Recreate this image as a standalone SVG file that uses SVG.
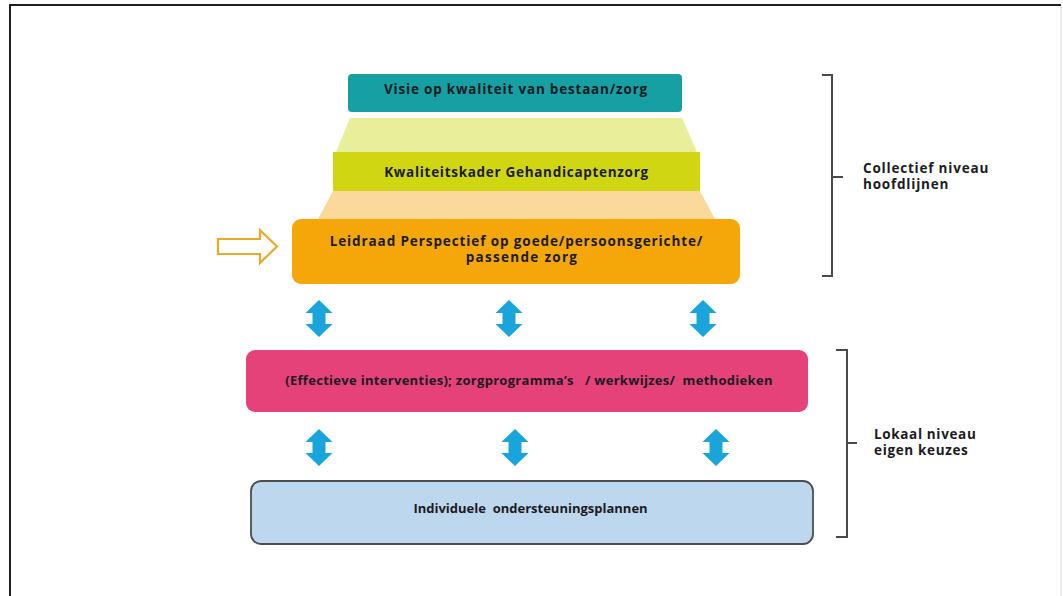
<svg xmlns="http://www.w3.org/2000/svg" width="1063" height="596" viewBox="0 0 1063 596">
<defs>
<style>
.t{font-family:"Open Sans","DejaVu Sans",sans-serif;font-weight:bold;font-size:13.5px;letter-spacing:0.8px;fill:#1b1b22;white-space:pre}
.m{text-anchor:middle}
.n{font-size:13px;letter-spacing:0.3px}
.brace{fill:none;stroke:#4a4a4a;stroke-width:2}
.dbl{fill:#1aa4dc}
</style>
<path id="dblarrow" d="M0,0 L13.5,13 L6.5,13 L6.5,24 L13.5,24 L0,37 L-13.5,24 L-6.5,24 L-6.5,13 L-13.5,13 Z"/>
</defs>
<rect x="0" y="0" width="1063" height="596" fill="#ffffff"/>
<g id="frame">
<path d="M10,596 L10,5 L1061,5" fill="none" stroke="#1e1e1e" stroke-width="2"/>
<line x1="1061" y1="6" x2="1061" y2="596" stroke="#e6e6e6" stroke-width="1.5"/>
</g>
<g id="step-bg">
<polygon points="350,118 682,118 697,152 336,152" fill="#e9ee9b"/>
<polygon points="333,191 700,191 715,219 318,219" fill="#fbd89c"/>
</g>
<g id="visie">
<rect x="348" y="74" width="334" height="38" rx="4" fill="#17a0a3"/>
<text class="t m" x="516" y="93.5">Visie op kwaliteit van bestaan/zorg</text>
</g>
<g id="kwaliteitskader">
<rect x="333" y="152" width="367" height="39" fill="#d0d712"/>
<text class="t m" x="516.5" y="177" style="letter-spacing:0.7px">Kwaliteitskader Gehandicaptenzorg</text>
</g>
<g id="leidraad">
<rect x="292" y="219" width="448" height="65" rx="9" fill="#f5a70a"/>
<text class="t m" x="516.5" y="246" style="letter-spacing:0.9px">Leidraad Perspectief op goede/persoonsgerichte/</text>
<text class="t m" x="522" y="262" style="letter-spacing:1.3px">passende zorg</text>
</g>
<g id="pointer-arrow">
<path d="M218,239 L260,239 L260,230 L277,246.5 L260,263 L260,254 L218,254 Z" fill="#ffffff" stroke="#eaa92b" stroke-width="2.2" stroke-linejoin="miter"/>
</g>
<g id="interventies">
<rect x="246" y="350" width="562" height="62" rx="9" fill="#e6427a"/>
<text class="t m n" x="529" y="385">(Effectieve interventies); zorgprogramma’s   / werkwijzes/  methodieken</text>
</g>
<g id="ondersteuningsplannen">
<rect x="251" y="481" width="562" height="63" rx="10" fill="#bdd7ee" stroke="#4d4d4d" stroke-width="1.8"/>
<text class="t m" x="530.5" y="513" style="font-size:13px;letter-spacing:0">Individuele  ondersteuningsplannen</text>
</g>
<g id="connectors">
<use href="#dblarrow" class="dbl" x="319" y="300"/>
<use href="#dblarrow" class="dbl" x="509" y="300"/>
<use href="#dblarrow" class="dbl" x="703" y="300"/>
<use href="#dblarrow" class="dbl" x="319" y="429"/>
<use href="#dblarrow" class="dbl" x="515" y="429"/>
<use href="#dblarrow" class="dbl" x="716" y="429"/>
</g>
<g id="collectief">
<path class="brace" d="M822,75 L832,75 L832,276 L822,276 M832,177 L843,177"/>
<text class="t" x="863" y="173">Collectief niveau</text>
<text class="t" x="863" y="189">hoofdlijnen</text>
</g>
<g id="lokaal">
<path class="brace" d="M836,350 L847,350 L847,537 L836,537 M847,443 L857,443"/>
<text class="t" x="874" y="439" style="letter-spacing:0.65px">Lokaal niveau</text>
<text class="t" x="874" y="455" style="letter-spacing:0.65px">eigen keuzes</text>
</g>
</svg>
